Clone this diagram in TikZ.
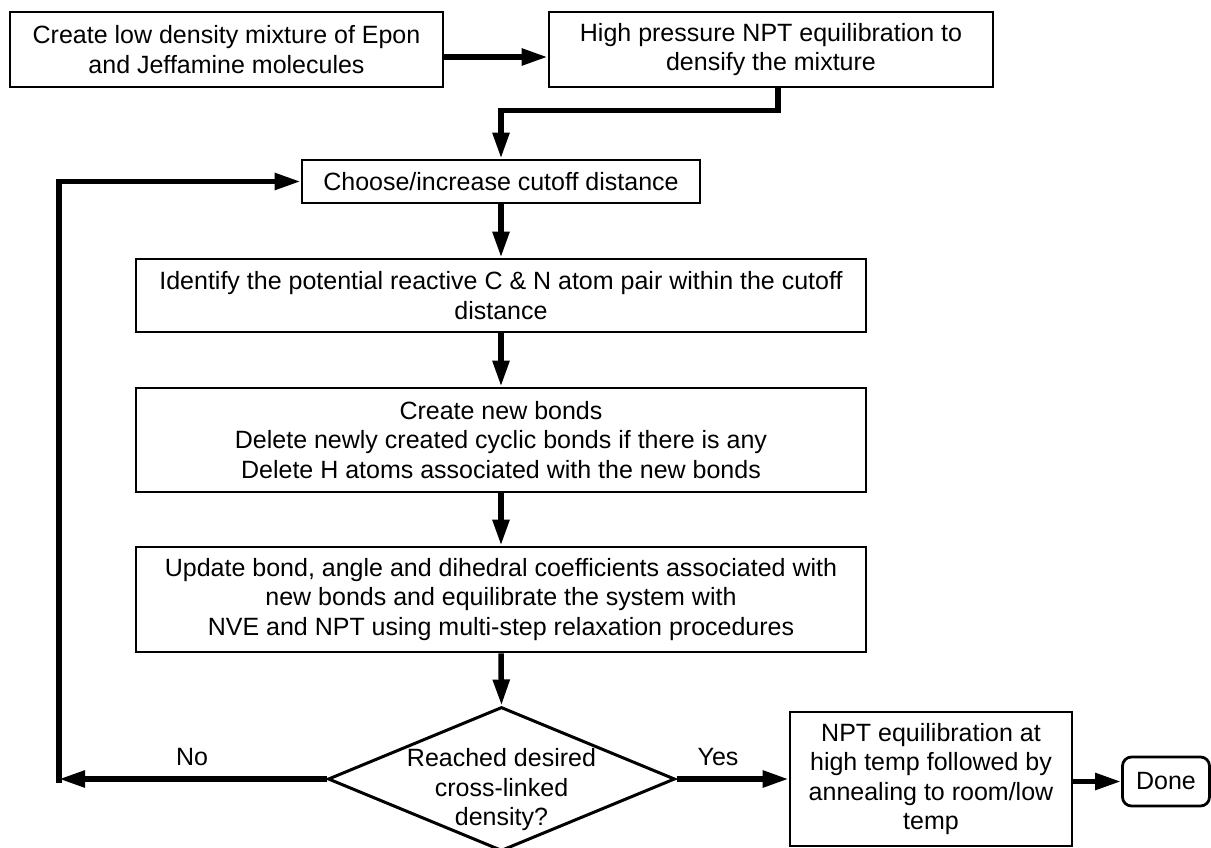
\documentclass[tikz,border=0pt]{standalone}
\usepackage{fontspec}
\setmainfont{Liberation Sans}
\usetikzlibrary{arrows.meta,shapes.geometric,calc}
\begin{document}
\begin{tikzpicture}[x=1pt,y=-1pt,
  txt/.style={font=\fontsize{25}{29.5}\selectfont},
  box/.style={draw,line width=2.8pt,inner sep=0pt,align=center,txt},
  arr/.style={line width=5.5pt,-{Triangle[length=26pt,width=16pt]}}]
\useasboundingbox[fill=white] (0,0) rectangle (1211,848);
% boxes
\node[box,minimum width=433pt,minimum height=75pt] (A) at (226.5,49.5) {Create low density mixture of Epon\\and Jeffamine molecules};
\node[box,minimum width=444pt,minimum height=75pt] (B) at (771,49.5) {High pressure NPT equilibration to\\densify the mixture};
\node[box,minimum width=398pt,minimum height=43pt] (choose) at (501,181.5) {Choose/increase cutoff distance};
\node[box,minimum width=730pt,minimum height=73pt] (ident) at (501,295.5) {Identify the potential reactive C \& N atom pair within the cutoff\\distance};
\node[box,minimum width=730pt,minimum height=104pt] (create) at (501,440) {Create new bonds\\Delete newly created cyclic bonds if there is any\\Delete H atoms associated with the new bonds};
\node[box,minimum width=730pt,minimum height=105pt] (update) at (501,599.5) {Update bond, angle and dihedral coefficients associated with\\new bonds and equilibrate the system with\\NVE and NPT using multi-step relaxation procedures};
\node[draw,diamond,line width=3pt,minimum width=347pt,minimum height=144pt,inner sep=0pt] (dec) at (501.5,779) {};
\node[txt,align=center] (dectext) at (501.5,790) {Reached desired\\cross-linked\\density?};
\node[box,minimum width=282pt,minimum height=134pt] (npt) at (931,779) {NPT equilibration at\\high temp followed by\\annealing to room/low\\temp};
\node[box,rounded corners=9pt,minimum width=87pt,minimum height=49pt] (done) at (1166,781.5) {Done};
% labels
\node[txt] (nolbl) at (192,757) {No};
\node[txt] (yeslbl) at (718,757) {Yes};
% loop coordinates
\coordinate (lb) at (59,779);
\coordinate (lbb) at (59,783);
\coordinate (lt) at (59,181.5);
% connectors
\draw[arr] ([yshift=-7.5pt]A.east) -- ([yshift=-7.5pt]B.west);
\draw[arr] ([xshift=7pt]B.south) -- ++(0,22) -| (choose.north);
\draw[arr] (choose.south) -- (ident.north);
\draw[arr] (ident.south) -- (create.north);
\draw[arr] (create.south) -- (update.north);
\draw[arr] (update.south) -- (dec.north);
\draw[arr] (dec.east) -- (npt.west);
\draw[arr] (done.west -| npt.east) -- (done.west);
\draw[arr] (dec.west) -- (lb);
\draw[arr] (lbb) -- (lt) -- (lt -| choose.west);
\end{tikzpicture}
\end{document}
